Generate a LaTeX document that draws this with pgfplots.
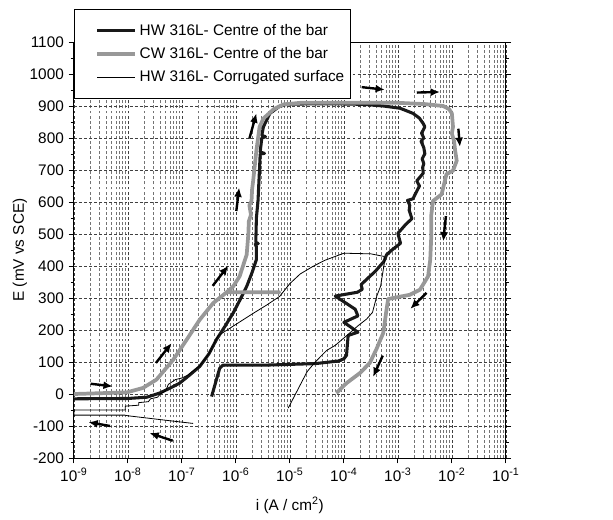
\documentclass[border=0pt]{standalone}
\usepackage{pgfplots}
\pgfplotsset{compat=1.18}
\usetikzlibrary{arrows.meta}
\usepackage{fontspec}
\setmainfont{Liberation Sans}
\definecolor{hwblack}{RGB}{25,25,25}
\definecolor{cwgray}{RGB}{152,152,152}
\begin{document}
\begin{tikzpicture}
\begin{semilogxaxis}[
  scale only axis, width=324pt, height=312pt,
  xmin=1e-9, xmax=1e-1, ymin=-200, ymax=1100,
  clip=false,
  axis line style={line width=0.7pt},
  xtick={1e-9,1e-8,1e-7,1e-6,1e-5,1e-4,1e-3,1e-2,1e-1},
  xticklabels={10\textsuperscript{-9},10\textsuperscript{-8},10\textsuperscript{-7},10\textsuperscript{-6},10\textsuperscript{-5},10\textsuperscript{-4},10\textsuperscript{-3},10\textsuperscript{-2},10\textsuperscript{-1}},
  ytick={-200,-100,...,1100},
  yticklabels={-200,-100,0,100,200,300,400,500,600,700,800,900,1000,1100},
  extra y ticks={-150,-50,50,150,250,350,450,550,650,750,850,950,1050},
  extra y tick labels={},
  extra y tick style={grid=none, major tick length=2.5pt},
  xtick pos=left,
  tick align=outside,
  major tick length=4pt,
  minor tick length=0pt,
  tick style={black, line width=0.6pt},
  xmajorgrids, xminorgrids, ymajorgrids,
  major grid style={dash pattern=on 2.2pt off 1.6pt, black!75, line width=0.45pt},
  minor grid style={dash pattern=on 2.2pt off 1.6pt, black!55, line width=0.35pt},
  tick label style={font=\fontsize{11.5}{13.5}\selectfont},
  label style={font=\fontsize{11.5}{13.5}\selectfont},
  xlabel={i (A / cm\textsuperscript{2})},
  ylabel={E (mV vs SCE)},
  xlabel style={at={(rel axis cs:0.5,-0.113)}, anchor=center},
  ylabel style={at={(rel axis cs:-0.125,0.5)}, anchor=center},
  legend cell align=left,
  legend image code/.code={\path (-0.45cm,0cm); \draw[#1] (0cm,0cm) -- (1cm,0cm);},
  legend style={at={(rel axis cs:0,1.079)}, anchor=north west,
    font=\fontsize{11.5}{13.5}\selectfont, draw=black, line width=0.7pt, fill=white,
    inner xsep=3pt, inner ysep=9pt, row sep=3.5pt,
    nodes={inner xsep=2pt}},
]
% HW 316L centre of the bar
\addplot[hwblack, line width=2.3pt, line join=round] coordinates {
(1e-9,-15) (1e-8,-14) (2.24e-8,-10) (3.89e-8,3) (6.31e-8,20) (9.12e-8,34)
(1.41e-7,60) (2.14e-7,86) (3.16e-7,125) (4.37e-7,170) (6.31e-7,212) (8.91e-7,253)
(1.20e-6,295) (1.585e-6,336) (2.0e-6,380) (2.40e-6,420) (2.40e-6,460)
(2.29e-6,468) (2.6e-6,470) (2.34e-6,474) (2.40e-6,550) (2.57e-6,603) (2.75e-6,708)
(2.82e-6,750) (3.39e-6,752) (2.82e-6,756) (3.02e-6,800) (3.55e-6,804) (3.02e-6,808)
(3.24e-6,835) (4.27e-6,877) (6.31e-6,898) (8.71e-6,906) (6.31e-5,907) (2.51e-4,905)
(5.37e-4,900) (1.10e-3,893) (1.905e-3,877) (2.51e-3,862) (2.95e-3,845) (3.16e-3,835)
(2.75e-3,815) (3.02e-3,800) (2.69e-3,790) (3.02e-3,770) (3.16e-3,751) (2.82e-3,735)
(3.02e-3,720) (2.88e-3,708) (2.95e-3,690) (2.24e-3,666) (2.51e-3,650) (2.09e-3,624)
(1.905e-3,610) (1.51e-3,605) (1.66e-3,590) (1.62e-3,574) (1.82e-3,548) (1.4e-3,530)
(1.0e-3,502) (1.12e-3,471) (7.76e-4,450) (6.17e-4,435) (5.50e-4,414) (3.80e-4,383)
(2.63e-4,358) (2.09e-4,342) (2.19e-4,327) (1.78e-4,318) (6.92e-5,306) (1.62e-4,265)
(1.82e-4,244) (1.0e-4,224) (1.32e-4,210) (1.82e-4,193) (1.20e-4,183) (1.12e-4,121)
(1.0e-4,110) (7.94e-5,103) (2.95e-5,95) (3.16e-6,90) (5.75e-7,90) (5.01e-7,80) (3.55e-7,-8)
};
\addlegendentry{HW 316L- Centre of the bar}
% CW 316L centre of the bar
\addplot[cwgray, line width=2.8pt, line join=round] coordinates {
(1e-9,0) (9.55e-9,5) (1.905e-8,19) (3.39e-8,45) (6.92e-8,107) (1.23e-7,170)
(2.14e-7,232) (3.80e-7,284) (6.76e-7,318) (6.46e-6,318) (6.76e-7,318)
(8.91e-7,336) (1.175e-6,368) (1.48e-6,420) (1.585e-6,435) (1.70e-6,498) (1.74e-6,540)
(1.905e-6,560) (1.78e-6,590) (1.95e-6,603) (2.0e-6,640) (2.09e-6,666) (2.40e-6,761)
(2.75e-6,835) (3.24e-6,861) (5.01e-6,890) (7.59e-6,905) (1.585e-5,910) (1e-3,910)
(3.16e-3,906) (6.92e-3,900) (8.91e-3,890) (1.0e-2,877) (1.05e-2,835) (1.0e-2,814)
(1.10e-2,790) (1.15e-2,761) (1.23e-2,729) (1.05e-2,698) (7.94e-3,687) (6.92e-3,645)
(6.46e-3,624) (4.47e-3,603) (4.17e-3,561) (4.17e-3,498) (3.98e-3,420) (3.63e-3,368)
(2.57e-3,326) (1.66e-3,310) (6.61e-4,297) (6.17e-4,264) (5.37e-4,191) (3.98e-4,139)
(3.02e-4,97) (2.0e-4,66) (1.12e-4,34) (7.24e-5,3)
};
\addlegendentry{CW 316L- Centre of the bar}
% HW 316L corrugated surface
\addplot[black, line width=0.6pt, line join=round] coordinates {
(1.62e-7,-92) (5.01e-8,-82) (1e-8,-68) (8.71e-9,-66) (1e-9,-66) (1e-9,-50)
(8.91e-9,-50) (8.91e-9,-38) (1.585e-8,-35) (1.585e-8,-27) (2.40e-8,-24) (2.63e-8,-15)
(3.55e-8,-10) (3.98e-8,0) (5.01e-8,10) (5.62e-8,30) (7.59e-8,45) (1e-7,50)
(1.26e-7,58) (2.14e-7,88) (3.16e-7,125) (4.37e-7,172) (4.68e-7,182) (8.71e-7,211)
(2.09e-6,252) (3.72e-6,278) (6.46e-6,305) (1e-5,345) (1.55e-5,375) (2.69e-5,399)
(4.47e-5,418) (1e-4,440) (3.16e-4,438) (5.50e-4,430) (5.75e-4,420) (4.79e-4,337)
(4.07e-4,306) (3.39e-4,255) (2.63e-4,234) (1.82e-4,213) (1.12e-4,182) (6.92e-5,152)
(4.79e-5,136) (2.95e-5,100) (2.09e-5,70) (1.445e-5,18) (9.33e-6,-44)
};
\addlegendentry{HW 316L- Corrugated surface}
% direction arrows
\pgfplotsset{arr/.style={black, line width=1.8pt, -{Latex[length=7pt,width=6pt]}, forget plot}}
\addplot[arr] coordinates {(2.04e-9,32) (5.25e-9,24)};
\addplot[arr] coordinates {(4.68e-9,-100) (1.86e-9,-88)};
\addplot[arr] coordinates {(6.76e-8,-146) (2.51e-8,-122)};
\addplot[arr] coordinates {(3.31e-8,97) (6.46e-8,159)};
\addplot[arr] coordinates {(3.72e-7,338) (7.24e-7,401)};
\addplot[arr] coordinates {(1.02e-6,572) (1.15e-6,645)};
\addplot[arr] coordinates {(1.78e-6,798) (2.40e-6,877)};
\addplot[arr] coordinates {(2.14e-4,959) (5.75e-4,951)};
\addplot[arr] coordinates {(2.24e-3,942) (6.03e-3,944)};
\addplot[arr] coordinates {(1.32e-2,829) (1.41e-2,772)};
\addplot[arr] coordinates {(7.76e-3,556) (6.92e-3,477)};
\addplot[arr] coordinates {(3.39e-3,316) (1.70e-3,266)};
\addplot[arr] coordinates {(5.25e-4,120) (3.47e-4,53)};
\path (rel axis cs:-0.171,-0.149) rectangle (rel axis cs:1.248,1.101);
\end{semilogxaxis}
\end{tikzpicture}
\end{document}
